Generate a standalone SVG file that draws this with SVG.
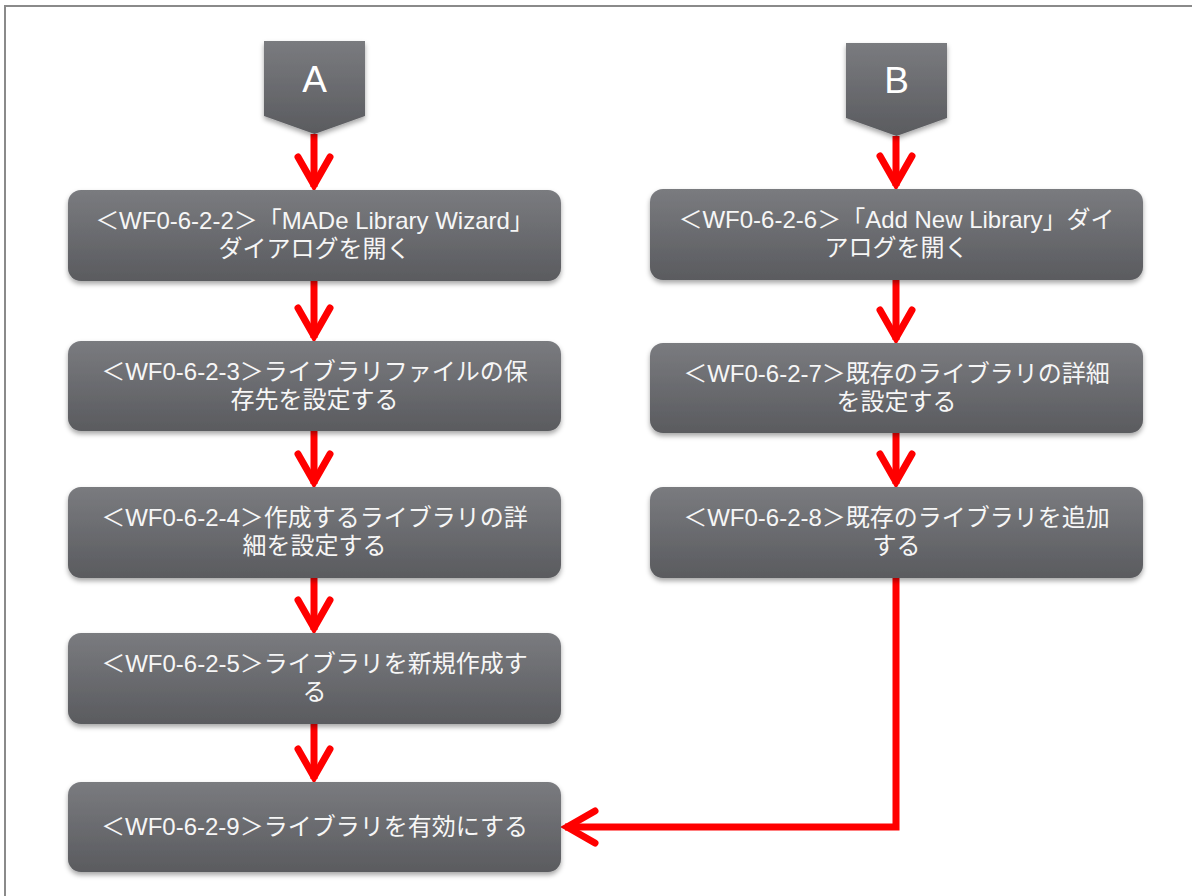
<svg xmlns="http://www.w3.org/2000/svg" width="1192" height="896" viewBox="0 0 1192 896">
  <defs>
    <linearGradient id="boxGrad" x1="0" y1="0" x2="0" y2="1">
      <stop offset="0" stop-color="#7a7b7f"/>
      <stop offset="1" stop-color="#5a5b5f"/>
    </linearGradient>
    <filter id="shadow" x="-5%" y="-10%" width="110%" height="130%">
      <feDropShadow dx="0" dy="3" stdDeviation="2.5" flood-color="#000" flood-opacity="0.35"/>
    </filter>
    <marker id="chev" viewBox="0 0 40 40" refX="36" refY="20" markerWidth="40" markerHeight="40" markerUnits="userSpaceOnUse" orient="auto">
      <path d="M6 4 L34 20 L6 36" fill="none" stroke="#ff0000" stroke-width="7" stroke-linecap="round" stroke-linejoin="miter"/>
    </marker>
    <style>
      .box { fill: url(#boxGrad); filter: url(#shadow); }
      .lbl { font-family: "Liberation Sans", "Noto Sans CJK JP", sans-serif; font-size: 24px; fill: #f6f6f6; text-anchor: middle; }
      .big { font-family: "Liberation Sans", "Noto Sans CJK JP", sans-serif; font-size: 37px; fill: #ffffff; text-anchor: middle; }
      .conn { fill: none; stroke: #ff0000; stroke-width: 7; marker-end: url(#chev); }
    </style>
  </defs>

  <rect width="1192" height="896" fill="#ffffff"/>
  <rect x="5" y="6" width="1200" height="900" fill="none" stroke="#8a8a8a" stroke-width="2"/>

  <g id="connectors">
    <path class="conn" d="M314 134 L314 187"/>
    <path class="conn" d="M314 281 L314 338"/>
    <path class="conn" d="M314 431 L314 484"/>
    <path class="conn" d="M314 578 L314 630"/>
    <path class="conn" d="M314 724 L314 779"/>
    <path class="conn" d="M896 136 L896 186"/>
    <path class="conn" d="M896 280 L896 340"/>
    <path class="conn" d="M896 433 L896 484"/>
    <path class="conn" d="M896 578 L896 827 L565 827" stroke-linejoin="miter"/>
  </g>

  <g id="startA">
    <path class="box" d="M264 41 H365 V116 L314.5 134 L264 116 Z"/>
    <text class="big" x="314.5" y="92">A</text>
  </g>
  <g id="startB">
    <path class="box" d="M846 43 H947 V118 L896.5 136 L846 118 Z"/>
    <text class="big" x="896.5" y="93">B</text>
  </g>

  <g id="wf0-6-2-2">
    <rect class="box" x="68" y="190" width="493" height="91" rx="13"/>
    <text class="lbl" x="314.5" y="229">＜WF0-6-2-2＞「MADe Library Wizard」</text>
    <text class="lbl" x="314.5" y="257">ダイアログを開く</text>
  </g>
  <g id="wf0-6-2-3">
    <rect class="box" x="68" y="341" width="493" height="90" rx="13"/>
    <text class="lbl" x="314.5" y="380">＜WF0-6-2-3＞ライブラリファイルの保</text>
    <text class="lbl" x="314.5" y="408">存先を設定する</text>
  </g>
  <g id="wf0-6-2-4">
    <rect class="box" x="68" y="487" width="493" height="91" rx="13"/>
    <text class="lbl" x="314.5" y="526">＜WF0-6-2-4＞作成するライブラリの詳</text>
    <text class="lbl" x="314.5" y="554">細を設定する</text>
  </g>
  <g id="wf0-6-2-5">
    <rect class="box" x="68" y="633" width="493" height="91" rx="13"/>
    <text class="lbl" x="314.5" y="672">＜WF0-6-2-5＞ライブラリを新規作成す</text>
    <text class="lbl" x="314.5" y="700">る</text>
  </g>
  <g id="wf0-6-2-9">
    <rect class="box" x="68" y="782" width="493" height="90" rx="13"/>
    <text class="lbl" x="314.5" y="835">＜WF0-6-2-9＞ライブラリを有効にする</text>
  </g>

  <g id="wf0-6-2-6">
    <rect class="box" x="650" y="189" width="493" height="91" rx="13"/>
    <text class="lbl" x="896.5" y="228">＜WF0-6-2-6＞「Add New Library」ダイ</text>
    <text class="lbl" x="896.5" y="256">アログを開く</text>
  </g>
  <g id="wf0-6-2-7">
    <rect class="box" x="650" y="343" width="493" height="90" rx="13"/>
    <text class="lbl" x="896.5" y="382">＜WF0-6-2-7＞既存のライブラリの詳細</text>
    <text class="lbl" x="896.5" y="410">を設定する</text>
  </g>
  <g id="wf0-6-2-8">
    <rect class="box" x="650" y="487" width="493" height="91" rx="13"/>
    <text class="lbl" x="896.5" y="526">＜WF0-6-2-8＞既存のライブラリを追加</text>
    <text class="lbl" x="896.5" y="554">する</text>
  </g>
</svg>
